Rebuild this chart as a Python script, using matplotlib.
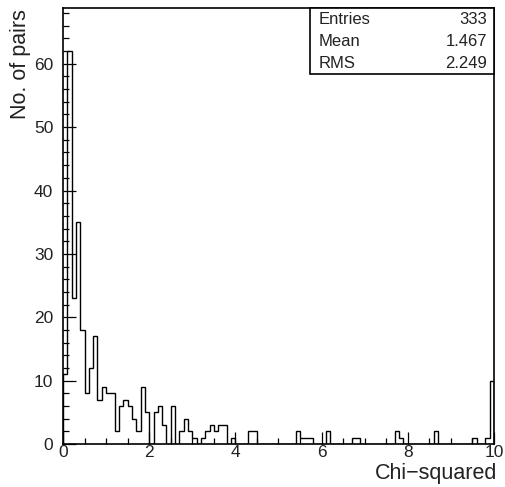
import numpy as np
import matplotlib.pyplot as plt
from matplotlib.ticker import MultipleLocator
from matplotlib.patches import Rectangle

plt.rcParams["font.family"] = ["Liberation Sans", "DejaVu Sans"]

# chi-squared of pairs, 100 bins on [0, 10]
x_min, x_max, n_bins = 0.0, 10.0, 100
counts = [
    11, 62, 23, 35, 18, 8, 12, 17, 7, 9,
    8, 8, 2, 6, 7, 6, 4, 2, 9, 5,
    0, 5, 6, 3, 0, 6, 0, 2, 4, 2,
    1, 0, 1, 2, 3, 2, 3, 3, 0, 1,
    0, 0, 0, 2, 2, 0, 0, 0, 0, 0,
    0, 0, 0, 0, 2, 1, 1, 1, 0, 0,
    0, 2, 0, 0, 0, 0, 0, 1, 1, 0,
    0, 0, 0, 0, 0, 0, 0, 2, 1, 0,
    0, 0, 0, 0, 0, 0, 2, 0, 0, 0,
    0, 0, 0, 0, 0, 1, 0, 0, 1, 10,
]
stat_names = ["Entries", "Mean", "RMS"]
stat_values = ["333", "1.467", "2.249"]

edges = np.linspace(x_min, x_max, n_bins + 1)

fig = plt.figure(figsize=(5.05, 4.87), dpi=100)
ax = fig.add_axes([0.1248, 0.0883, 0.8532, 0.8953])

ax.stairs(counts, edges, color="black", lw=1.0, baseline=0)

ax.set_xlim(x_min, x_max)
ax.set_ylim(0, 68.8)
ax.xaxis.set_major_locator(MultipleLocator(2))
ax.xaxis.set_minor_locator(MultipleLocator(0.5))
ax.yaxis.set_major_locator(MultipleLocator(10))
ax.yaxis.set_minor_locator(MultipleLocator(2))
ax.tick_params(which="both", direction="in", top=False, right=False,
               labelsize=12.5, width=0.9, colors="black", labelcolor="#222222")
ax.tick_params(which="major", length=9)
ax.tick_params(which="minor", length=4.5)
ax.tick_params(axis="x", pad=1)
ax.tick_params(axis="y", pad=7)
for s in ax.spines.values():
    s.set_linewidth(1.2)

fig.text(0.985, 0.027, "Chi\u2212squared", ha="right", va="center",
         fontsize=15.5, color="#222222")
fig.text(0.040, 0.981, "No. of pairs", ha="center", va="top", rotation=90,
         fontsize=15.5, color="#222222")

# statistics box in the top right corner
bx0, bx1 = 310 / 505, 494 / 505
by0, by1 = 1 - 74 / 487, 1 - 8 / 487
fig.patches.append(Rectangle((bx0, by0), bx1 - bx0, by1 - by0,
                             transform=fig.transFigure, fill=True,
                             facecolor="white", edgecolor="black", lw=1.2))
row_h = (by1 - by0) / len(stat_names)
for i, (name, val) in enumerate(zip(stat_names, stat_values)):
    yc = by1 - (i + 0.5) * row_h
    fig.text(bx0 + 9 / 505, yc, name, ha="left", va="center", fontsize=12,
             color="#222222")
    fig.text(bx1 - 7 / 505, yc, val, ha="right", va="center", fontsize=12,
             color="#222222")

fig.savefig("out.png", dpi=100)
